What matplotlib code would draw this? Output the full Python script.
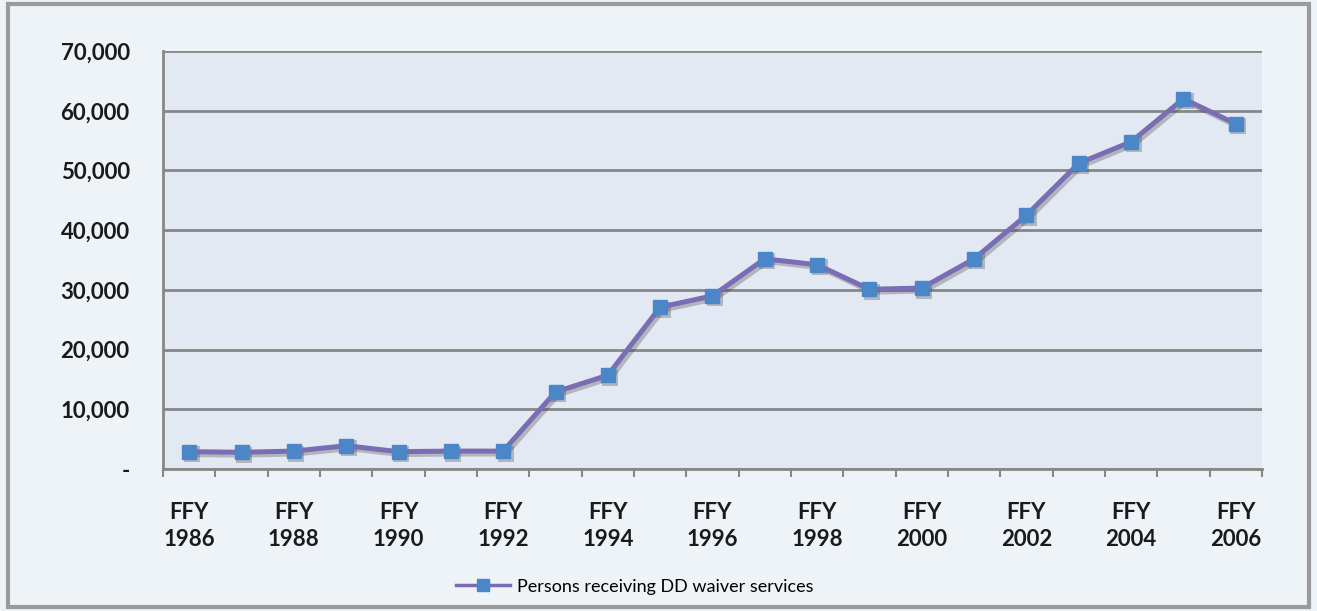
import matplotlib
matplotlib.use("Agg")
import matplotlib.pyplot as plt
import matplotlib.transforms as mtransforms
from matplotlib.patches import Rectangle
from matplotlib.ticker import FixedLocator, FuncFormatter

years = list(range(1986, 2007))
persons = [2900, 2800, 3000, 3900, 2900, 3000, 3000, 12900, 15700, 27100, 29000,
           35200, 34200, 30100, 30300, 35200, 42500, 51200, 54800, 62000, 57800]
yticks = [0, 10000, 20000, 30000, 40000, 50000, 60000, 70000]
series_label = "Persons receiving DD waiver services"

plt.rcParams['font.family'] = ['Lato', 'DejaVu Sans']

fig = plt.figure(figsize=(13.17, 6.11), dpi=100)
fig.patch.set_facecolor('#eef3f8')
fig.patches.append(Rectangle((0.006, 0.006), 0.988, 0.988, transform=fig.transFigure,
                             facecolor='none', edgecolor='#9a9a9a', lw=3, zorder=0))

ax = fig.add_axes([0.1238, 0.2324, 0.8344, 0.6841])
ax.set_facecolor('#e2e9f3')

x = list(range(len(years)))
# soft drop shadow (same data, offset a few pixels)
shadow_tr = mtransforms.offset_copy(ax.transData, fig=fig, x=2.5, y=-2.5, units='dots')
ax.plot(x, persons, color='#333333', alpha=0.28, lw=4.2, marker='s', markersize=11,
        markeredgewidth=0, transform=shadow_tr, zorder=4)
line, = ax.plot(x, persons, color='#7a6db3', lw=3.6, marker='s', markersize=10.5,
                markerfacecolor='#4a86c8', markeredgecolor='#4a86c8', zorder=5,
                label=series_label)

ax.set_xlim(-0.5, len(years) - 0.5)
ax.set_ylim(0, 70000)
ax.set_yticks(yticks)
ax.yaxis.set_major_formatter(FuncFormatter(lambda v, p: '-' if v == 0 else f'{int(v):,}'))
ax.grid(axis='y', color='#878787', lw=2)
ax.set_axisbelow(True)

# x ticks at category boundaries, labels at every other category
ax.xaxis.set_major_locator(FixedLocator([i - 0.5 for i in range(len(years) + 1)]))
ax.xaxis.set_major_formatter(FuncFormatter(lambda v, p: ''))
ax.xaxis.set_minor_locator(FixedLocator(x[::2]))
ax.set_xticklabels([f'FFY\n{y}' for y in years[::2]], minor=True)
ax.tick_params(axis='x', which='major', length=6, width=1.5, color='#878787', direction='out')
ax.tick_params(axis='x', which='minor', length=0, pad=24, labelsize=16, labelcolor='#1a1a1a')
ax.tick_params(axis='y', length=0, pad=24, labelsize=16, labelcolor='#1a1a1a')
for lbl in ax.get_xticklabels(minor=True) + ax.get_yticklabels():
    lbl.set_fontweight('bold')
    lbl.set_linespacing(1.35)

for s in ['top', 'right']:
    ax.spines[s].set_visible(False)
ax.spines['left'].set_color('#878787')
ax.spines['left'].set_linewidth(2)
ax.spines['bottom'].set_color('#878787')
ax.spines['bottom'].set_linewidth(2)

leg = fig.legend(handles=[line], labels=[series_label], loc='center', bbox_to_anchor=(0.482, 0.04),
                 frameon=False, fontsize=13, handlelength=3, handletextpad=0.4)
leg.get_lines()[0].set_linewidth(2.5)
leg.get_lines()[0].set_markersize(9)

fig.savefig('out.png', dpi=100, facecolor=fig.get_facecolor())
